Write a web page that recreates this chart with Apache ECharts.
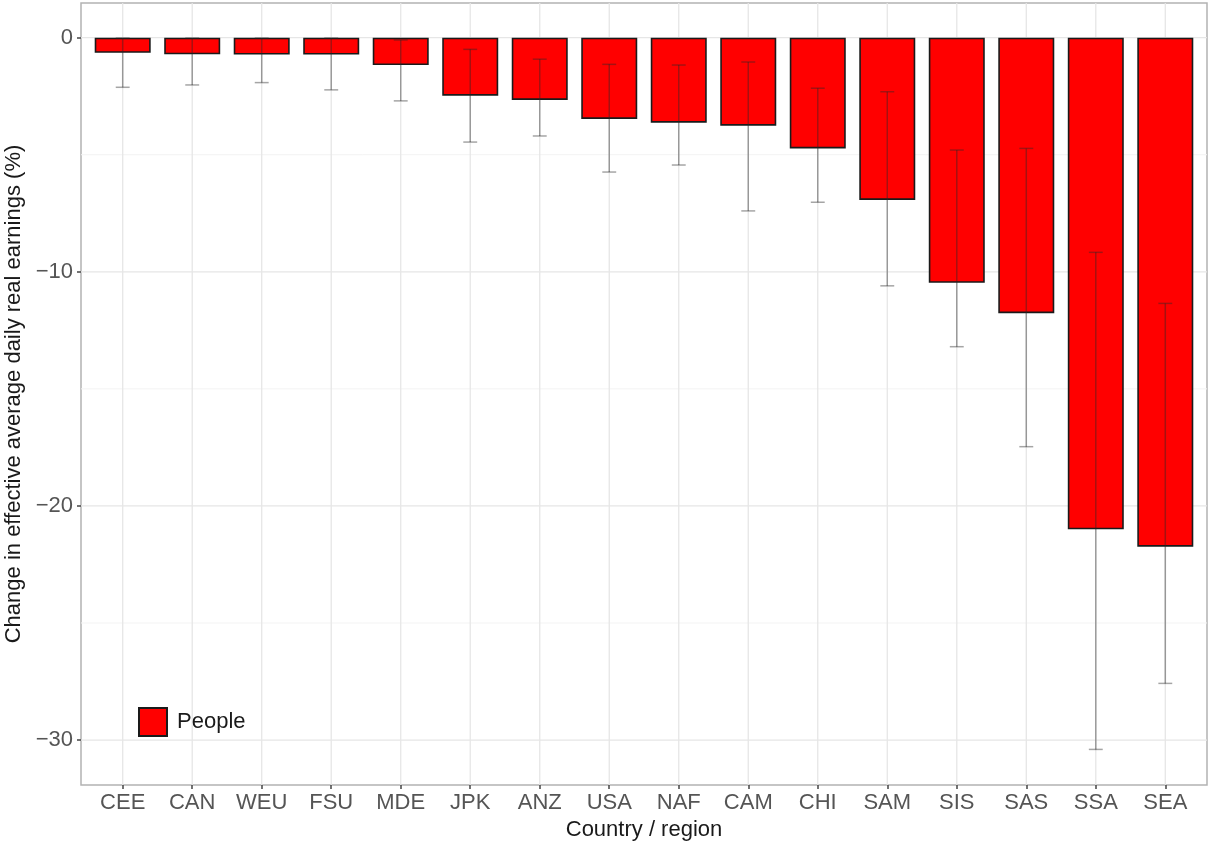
<!DOCTYPE html>
<html>
<head>
<meta charset="utf-8">
<title>Change in effective average daily real earnings</title>
<script src="https://cdn.jsdelivr.net/npm/echarts@6/dist/echarts.min.js"></script>
<style>
  html, body { margin: 0; padding: 0; background: #ffffff; }
  #chart { width: 1208px; height: 844px; }
</style>
</head>
<body>
<div id="chart"></div>
<script>
// Regions, ordered from smallest to largest loss
var regions = ['CEE', 'CAN', 'WEU', 'FSU', 'MDE', 'JPK', 'ANZ', 'USA', 'NAF', 'CAM', 'CHI', 'SAM', 'SIS', 'SAS', 'SSA', 'SEA'];
// Central estimate of the change (%)
var people = [-0.65, -0.71, -0.72, -0.72, -1.17, -2.48, -2.66, -3.47, -3.63, -3.76, -4.73, -6.93, -10.47, -11.77, -21.0, -21.74];
// Uncertainty range (%)
var errUpper = [-0.02, -0.02, -0.02, -0.02, -0.1, -0.5, -0.92, -1.14, -1.17, -1.04, -2.16, -2.31, -4.8, -4.73, -9.17, -11.35];
var errLower = [-2.12, -2.02, -1.92, -2.23, -2.7, -4.46, -4.2, -5.74, -5.44, -7.4, -7.03, -10.6, -13.2, -17.47, -30.4, -27.58];
// Axis ticks
var yTicks = [-30, -20, -10, 0];
var yMinorTicks = [-25, -15, -5];

var FONT = '"Liberation Sans", Arial, Helvetica, sans-serif';
var FONT_SIZE = 22;
var xIdx = regions.map(function (_, i) { return i; });

function fmtNum(v) { return String(v).replace('-', '\u2212'); }

// Gridline helper: horizontal lines at given y values, vertical lines at given x values
function gridSeries(values, dir, color, width) {
  return {
    type: 'custom',
    silent: true,
    z: 0,
    data: values,
    encode: dir === 'h' ? { y: 0 } : { x: 0 },
    renderItem: function (params, api) {
      var cs = params.coordSys;
      var v = api.value(0);
      var shape;
      if (dir === 'h') {
        var y = api.coord([0, v])[1];
        shape = { x1: cs.x, y1: y, x2: cs.x + cs.width, y2: y };
      } else {
        var x = api.coord([v, 0])[0];
        shape = { x1: x, y1: cs.y, x2: x, y2: cs.y + cs.height };
      }
      return { type: 'line', shape: shape, style: { stroke: color, lineWidth: width } };
    }
  };
}

var chart = echarts.init(document.getElementById('chart'), null, { renderer: 'canvas' });

chart.setOption({
  backgroundColor: '#ffffff',
  animation: false,
  textStyle: { fontFamily: FONT },
  grid: {
    left: 81, right: 1, top: 3, bottom: 59,
    containLabel: false,
    outerBoundsMode: 'none',
    show: true, borderColor: '#b3b3b3', borderWidth: 1.5, backgroundColor: '#ffffff'
  },
  legend: {
    data: ['People'],
    left: 138, top: 707,
    padding: 0,
    orient: 'vertical',
    itemWidth: 28, itemHeight: 28,
    icon: 'rect',
    textStyle: { fontFamily: FONT, fontSize: FONT_SIZE, color: '#1a1a1a', padding: [0, 0, 0, 5] }
  },
  xAxis: {
    type: 'value',
    min: -0.6, max: 15.6,
    name: 'Country / region',
    nameLocation: 'middle',
    nameGap: 34,
    nameTextStyle: { fontFamily: FONT, fontSize: FONT_SIZE, color: '#1a1a1a' },
    axisLine: { show: false, onZero: false },
    axisTick: { show: true, customValues: xIdx, length: 4, lineStyle: { color: '#444', width: 1.5 } },
    axisLabel: {
      customValues: xIdx, margin: 7,
      fontFamily: FONT, fontSize: FONT_SIZE, color: '#555555',
      formatter: function (v) { return regions[Math.round(v)] || ''; }
    },
    splitLine: { show: false }
  },
  yAxis: {
    type: 'value',
    min: -31.92, max: 1.48,
    name: 'Change in effective average daily real earnings (%)',
    nameLocation: 'middle',
    nameRotate: 90,
    nameGap: 55,
    nameTextStyle: { fontFamily: FONT, fontSize: FONT_SIZE, color: '#1a1a1a' },
    axisLine: { show: false, onZero: false },
    axisTick: { show: true, customValues: yTicks, length: 4, lineStyle: { color: '#444', width: 1.5 } },
    axisLabel: {
      customValues: yTicks, margin: 8,
      fontFamily: FONT, fontSize: FONT_SIZE, color: '#555555',
      formatter: function (v) { return fmtNum(v); }
    },
    splitLine: { show: false }
  },
  series: [
    gridSeries(yMinorTicks, 'h', '#f3f3f3', 1),
    gridSeries(yTicks, 'h', '#e6e6e6', 1.3),
    gridSeries(xIdx, 'v', '#e6e6e6', 1.3),
    {
      name: 'People',
      type: 'bar',
      z: 2,
      barWidth: 56,
      data: people.map(function (v, i) { return [i, v]; }),
      itemStyle: { color: '#ff0000', borderColor: '#1a1a1a', borderWidth: 1.6 }
    },
    {
      // Error bars
      type: 'custom',
      name: 'range',
      z: 3,
      silent: true,
      data: errLower.map(function (lo, i) { return [i, lo, errUpper[i]]; }),
      encode: { x: 0, y: [1, 2] },
      renderItem: function (params, api) {
        var i = api.value(0);
        var lo = api.coord([i, api.value(1)]);
        var hi = api.coord([i, api.value(2)]);
        var half = api.size([0.2, 0])[0] / 2;
        var style = { stroke: 'rgba(40,40,40,0.42)', lineWidth: 1.5 };
        return {
          type: 'group',
          children: [
            { type: 'line', shape: { x1: lo[0], y1: lo[1], x2: hi[0], y2: hi[1] }, style: style },
            { type: 'line', shape: { x1: lo[0] - half, y1: lo[1], x2: lo[0] + half, y2: lo[1] }, style: style },
            { type: 'line', shape: { x1: hi[0] - half, y1: hi[1], x2: hi[0] + half, y2: hi[1] }, style: style }
          ]
        };
      }
    }
  ]
});
</script>
</body>
</html>
